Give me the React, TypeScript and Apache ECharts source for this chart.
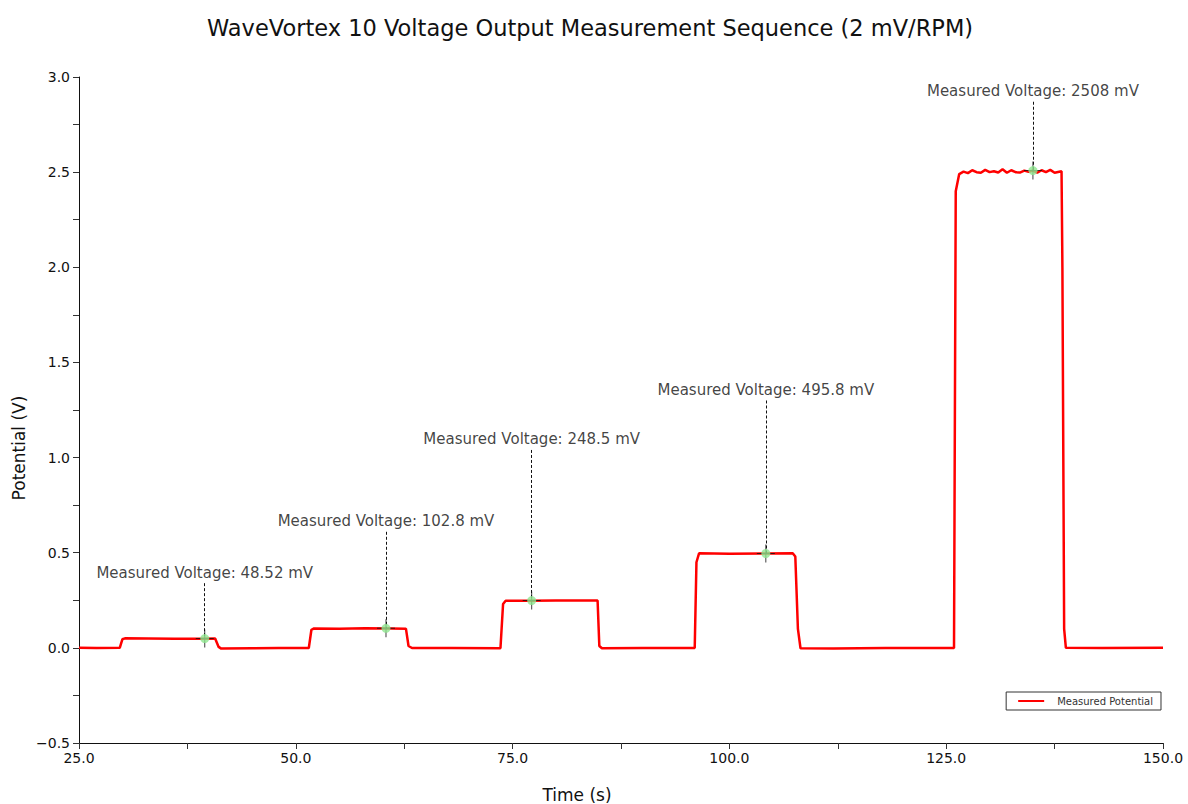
import React, { useEffect, useRef } from "react";
import * as echarts from "echarts";

const titleText = "WaveVortex 10 Voltage Output Measurement Sequence (2 mV/RPM)";
const seriesName = "Measured Potential";

const timeSec = [
  25, 27, 29.7, 30.0, 30.3, 33, 36, 39, 40.7, 41.1, 41.4, 45, 48,
  51.5, 51.8, 52.1, 55, 58, 61, 62.7, 63.0, 63.4, 68,
  73.6, 73.9, 74.2, 77, 80, 84.8, 85.0, 85.3, 90,
  96.0, 96.2, 96.5, 100, 104, 107.3, 107.6, 107.9, 108.2, 112, 118,
  125.9, 126.1, 126.5, 127, 127.5, 128, 128.5, 129, 129.5, 130, 130.5, 131,
  131.5, 132, 132.5, 133, 133.5, 134, 134.5, 135, 135.5, 136, 136.5, 137,
  137.5, 138.3, 138.4, 138.6, 138.8, 143, 150,
];
const potentialV = [
  0.0, -0.001, 0.0, 0.045, 0.05, 0.049, 0.048, 0.0485, 0.049, 0.005, -0.004, -0.002, -0.001,
  -0.001, 0.095, 0.102, 0.101, 0.103, 0.102, 0.101, 0.01, -0.001, -0.001,
  -0.002, 0.23, 0.248, 0.247, 0.249, 0.249, 0.01, -0.002, -0.001,
  -0.001, 0.45, 0.497, 0.495, 0.496, 0.497, 0.48, 0.1, -0.002, -0.004, -0.001,
  -0.001, 2.4, 2.49, 2.503, 2.495, 2.51, 2.5, 2.497, 2.512, 2.5, 2.505, 2.498,
  2.515, 2.497, 2.51, 2.5, 2.498, 2.508, 2.502, 2.508, 2.497, 2.51, 2.5, 2.512,
  2.497, 2.505, 2.0, 0.1, 0.0, -0.001, 0.0,
];

const markerTime = [39.5, 60.4, 77.2, 104.2, 135.0];
const markerVolts = [0.04852, 0.1028, 0.2485, 0.4958, 2.508];
const markerLabels = [
  "Measured Voltage: 48.52 mV",
  "Measured Voltage: 102.8 mV",
  "Measured Voltage: 248.5 mV",
  "Measured Voltage: 495.8 mV",
  "Measured Voltage: 2508 mV",
];
const labelTops = [0.34, 0.61, 1.04, 1.3, 2.87];

const FONT = "DejaVu Sans";

export default function App() {
  const ref = useRef<HTMLDivElement>(null);
  useEffect(() => {
    if (!ref.current) return;
    const chart = echarts.init(ref.current, null, { renderer: "svg" });
    const lineData = timeSec.map((t, i) => [t, potentialV[i]]);
    const anchorData = markerTime.map((t, i) => [t, labelTops[i]]);
    const dashPairs = markerTime.map((t, i) => [
      { coord: [t, labelTops[i]] },
      { coord: [t, markerVolts[i]] },
    ]);
    const ptData = markerTime.map((t, i) => [t, markerVolts[i]]);
    chart.setOption({
      animation: false,
      backgroundColor: "#ffffff",
      textStyle: { fontFamily: FONT },
      title: {
        text: titleText,
        left: 202,
        top: 11,
        textStyle: { fontFamily: FONT, fontSize: 22.5, fontWeight: "normal", color: "#111" },
      },
      grid: { left: 79, right: 25, top: 77, bottom: 61 },
      legend: {
        data: [{ name: seriesName, icon: "rect" }],
        right: 27,
        top: 692,
        itemWidth: 26,
        itemHeight: 2,
        borderColor: "#333",
        borderWidth: 1,
        borderRadius: 0,
        padding: [4, 8, 4, 12],
        itemGap: 10,
        textStyle: { fontFamily: FONT, fontSize: 10, color: "#333", padding: [0, 0, 0, 8] },
      },
      xAxis: {
        type: "value",
        min: 25,
        max: 150,
        interval: 12.5,
        axisLine: { onZero: false, lineStyle: { color: "#111", width: 1 } },
        axisTick: { show: true, length: 6, lineStyle: { color: "#333" } },
        splitLine: { show: false },
        axisLabel: {
          fontFamily: FONT,
          fontSize: 14,
          color: "#111",
          margin: 8,
          formatter: (v: number) => (Math.abs(v % 25) < 1e-6 ? v.toFixed(1) : ""),
        },
      },
      yAxis: {
        type: "value",
        min: -0.5,
        max: 3.0,
        interval: 0.25,
        axisLine: { show: true, onZero: false, lineStyle: { color: "#111", width: 1 } },
        axisTick: { show: true, length: 6, lineStyle: { color: "#333" } },
        splitLine: { show: false },
        axisLabel: {
          fontFamily: FONT,
          fontSize: 14,
          color: "#111",
          margin: 9,
          formatter: (v: number) => {
            const r = Math.round(v * 4);
            if (r % 2 !== 0) return "";
            const s = Math.abs(v).toFixed(1);
            return v < 0 ? "\u2212" + s : s;
          },
        },
      },
      graphic: [
        {
          type: "text",
          x: 19,
          y: 448,
          rotation: Math.PI / 2,
          style: {
            text: "Potential (V)",
            font: `17px "${FONT}"`,
            fill: "#111",
            align: "center",
            verticalAlign: "middle",
          },
        },
        {
          type: "text",
          x: 577,
          y: 795,
          style: {
            text: "Time (s)",
            font: `17px "${FONT}"`,
            fill: "#111",
            align: "center",
            verticalAlign: "middle",
          },
        },
      ],
      series: [
        {
          name: seriesName,
          type: "line",
          data: lineData,
          showSymbol: false,
          symbol: "none",
          lineStyle: { color: "#ff0000", width: 2.5 },
          itemStyle: { color: "#ff0000" },
          z: 2,
        },
        {
          name: "anchors",
          type: "scatter",
          data: anchorData,
          symbolSize: 0,
          itemStyle: { color: "transparent" },
          label: {
            show: true,
            position: "top",
            distance: 3,
            fontFamily: FONT,
            fontSize: 15,
            color: "#111",
            formatter: (p: any) => markerLabels[p.dataIndex],
          },
          markLine: {
            silent: true,
            symbol: "none",
            label: { show: false },
            lineStyle: { color: "#111", type: [3, 2], width: 1 },
            data: dashPairs,
          },
          z: 3,
        },
        {
          name: "cross",
          type: "scatter",
          data: ptData,
          symbol: "path://M8.5,0 h1 v18 h-1 z M0,8.5 h18 v1 h-18 z",
          symbolSize: 18,
          itemStyle: { color: "#111" },
          z: 4,
        },
        {
          name: "dots",
          type: "scatter",
          data: ptData,
          symbol: "circle",
          symbolSize: 9,
          itemStyle: { color: "#8ee68e" },
          z: 5,
        },
      ],
    });
    return () => chart.dispose();
  }, []);
  return <div ref={ref} style={{ width: 1188, height: 804, position: "absolute", left: 0, top: 0 }} />;
}
